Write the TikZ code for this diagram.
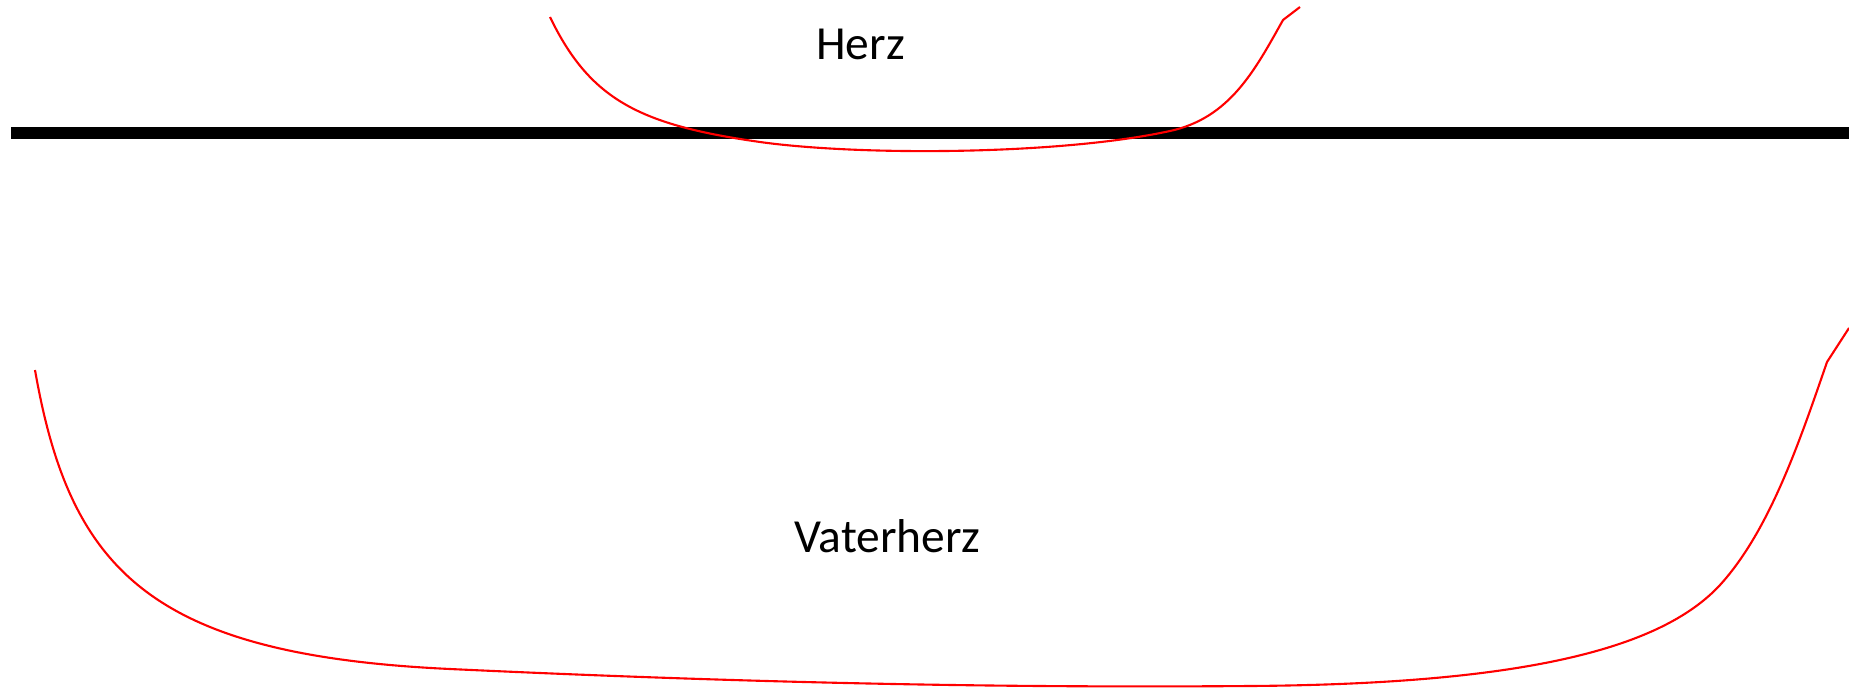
\documentclass[tikz,border=0pt]{standalone}
\usepackage{fontspec}
\setmainfont{Carlito}
\usepackage{tikz}

\begin{document}
\begin{tikzpicture}[
  x=0.01cm, y=-0.01cm,
  bar/.style={line width=3.4pt, line cap=butt},
  trace/.style={red, line width=0.6pt, line join=round},
  label/.style={anchor=base, inner sep=0pt, font=\fontsize{13.5}{16}\selectfont}
]
\useasboundingbox (0,0) rectangle (1849,688);
% the black bar
\coordinate (barL) at (11,133);
\coordinate (barR) at (1849,133);
\draw[bar] (barL) -- (barR);
% labels
\node[label] (herz) at (860.5,60) {Herz};
\node[label] (vaterherz) at (887.5,552) {Vaterherz};
% small curve
\draw[trace] (550,17) .. controls (590,100) and (640,125) .. (760,142)
  .. controls (860,156) and (1060,155) .. (1170,131)
  .. controls (1230,118) and (1255,70) .. (1283,20) -- (1300,7);
% large curve
\draw[trace] (35,370) .. controls (70,570) and (150,655) .. (450,669)
  .. controls (750,683) and (1000,688) .. (1250,686)
  .. controls (1520,684) and (1660,650) .. (1720,585)
  .. controls (1770,530) and (1800,440) .. (1827,362) -- (1849,328);
\end{tikzpicture}
\end{document}
